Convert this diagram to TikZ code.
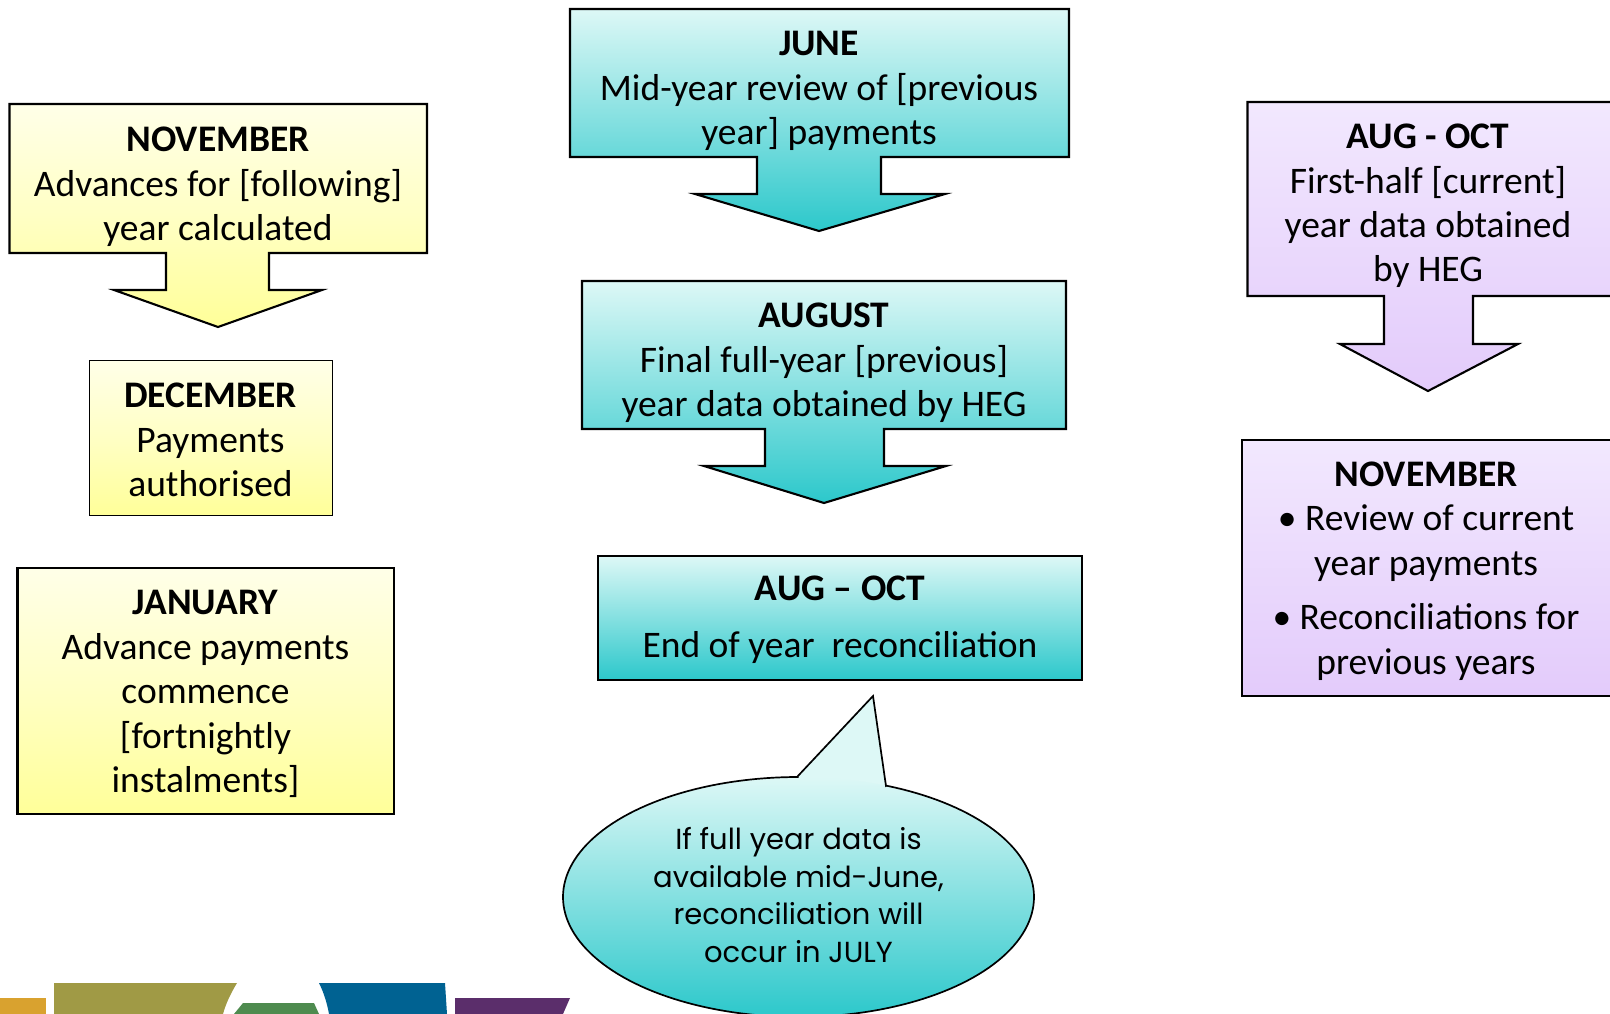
\documentclass[tikz,border=0pt]{standalone}
\usepackage{fontspec}
\setmainfont{Carlito}
\newfontfamily\comicfont{Poppins}
\definecolor{ytop}{HTML}{FFFFE8}
\definecolor{ybot}{HTML}{FFFF99}
\definecolor{ttop}{HTML}{DDF8F6}
\definecolor{tbot}{HTML}{2CC8CB}
\definecolor{ptop}{HTML}{F2E8FE}
\definecolor{pbot}{HTML}{E3CBFB}
\definecolor{logoorange}{RGB}{217,162,47}
\definecolor{logoolive}{RGB}{160,154,69}
\definecolor{logogreen}{RGB}{78,139,79}
\definecolor{logoblue}{RGB}{0,98,146}
\definecolor{logopurple}{RGB}{91,46,107}
\tikzset{
  yshape/.style={draw=black,line width=2.1pt,line join=miter,top color=ytop,bottom color=ybot,middle color=ybot!45!ytop},
  tshape/.style={draw=black,line width=2.1pt,line join=miter,top color=ttop,bottom color=tbot},
  pshape/.style={draw=black,line width=2.1pt,line join=miter,top color=ptop,bottom color=pbot},
  label/.style={align=center,inner sep=0pt,text=black,font=\fontsize{37.5}{44.4}\selectfont},
  bubble/.style={align=center,inner sep=0pt,text=black,font=\comicfont\fontsize{29}{37.5}\selectfont},
}
\begin{document}
\begin{tikzpicture}[x=1pt,y=-1pt]
\clip (0,0) rectangle (1610,1014);
\fill[white] (0,0) rectangle (1610,1014);
% logo strip
\fill[logoorange] (0,998) -- (46,998) -- (46,1014) -- (0,1014) -- cycle;
\fill[logoolive] (54,983) -- (237,983) .. controls (231,993) and (226,1003) .. (223,1014) -- (54,1014) -- cycle;
\fill[logogreen] (243,1003) -- (314,1003) -- (319,1014) -- (234,1014) -- cycle;
\fill[logoblue] (319,983) -- (445,983) -- (447,1014) -- (329,1014) .. controls (327,1003) and (324,993) .. (319,983) -- cycle;
\fill[logopurple] (455,998) -- (570,998) -- (563,1014) -- (455,1014) -- cycle;
% yellow column
\path[yshape] (9.5,104) -- (427,104) -- (427,253) -- (269,253) -- (269,290) -- (322,290) -- (218,327) -- (114,290) -- (166,290) -- (166,253) -- (9.5,253) -- cycle;
\node[label] (nov) at (218,187) {\textbf{NOVEMBER}\\Advances for [following]\\year calculated};
\path[yshape,line width=1pt] (89.5,360.5) rectangle (332,515.5);
\node[label] (dec) at (210.5,440) {\textbf{DECEMBER}\\Payments\\authorised};
\path[yshape] (17.5,568) rectangle (394,814);
\node[label] (jan) at (205.5,694) {\textbf{JANUARY}\\Advance payments\\commence\\{[fortnightly}\\instalments]};
% teal column
\path[tshape] (570,9) -- (1069,9) -- (1069,157) -- (881,157) -- (881,194) -- (945,194) -- (819,231) -- (695,194) -- (757,194) -- (757,157) -- (570,157) -- cycle;
\node[label] (jun) at (819,91) {\textbf{JUNE}\\Mid-year review of [previous\\year] payments};
\path[tshape] (582,281) -- (1066,281) -- (1066,429) -- (884,429) -- (884,466) -- (946,466) -- (824,503) -- (704,466) -- (765,466) -- (765,429) -- (582,429) -- cycle;
\node[label] (aug) at (824,363) {\textbf{AUGUST}\\Final full-year [previous]\\year data obtained by HEG};
\path[tshape] (598,556) rectangle (1082,680);
\node[label] (rec) at (840,620) {\textbf{AUG – OCT}\\[13pt]End of year~ reconciliation};
% speech bubble
\fill[ttop] (797,777) -- (873,696) -- (886,786) -- cycle;
\shade[top color=ttop,bottom color=tbot] plot[domain=0:360,samples=180] ({798.5+235.5*cos(\x)},{897+120*sin(\x)}) -- cycle;
\draw[line width=1.7pt,line join=miter] (797,777) -- (873,696) -- (886,786)
  -- plot[domain=-68:270,samples=170] ({798.5+235.5*cos(\x)},{897+120*sin(\x)}) -- cycle;
\node[bubble] (bub) at (798.5,895) {If full year data is\\available mid-June,\\reconciliation will\\occur in JULY};
% purple column
\path[pshape] (1247.5,102) -- (1625,102) -- (1625,296) -- (1473,296) -- (1473,344) -- (1518,344) -- (1428,391) -- (1340,344) -- (1384,344) -- (1384,296) -- (1247.5,296) -- cycle;
\node[label] (aug2) at (1428,206) {\textbf{AUG - OCT}\\First-half [current]\\year data obtained\\by HEG};
\path[pshape] (1242,440) rectangle (1625,696);
\node[label] (nov2) at (1426,571) {\textbf{NOVEMBER}\\• Review of current\\year payments\\[10pt]• Reconciliations for\\previous years};
\end{tikzpicture}
\end{document}
